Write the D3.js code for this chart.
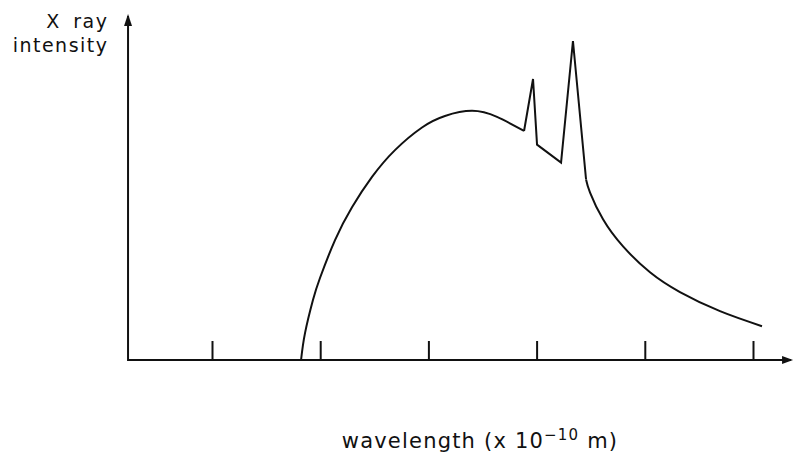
<!DOCTYPE html>
<html>
<head>
<meta charset="utf-8">
<script src="https://cdn.jsdelivr.net/npm/d3@7"></script>
<style>
  body { margin: 0; background: #fff; }
  svg { display: block; }
  text { font-family: "DejaVu Sans", sans-serif; fill: #111; }
</style>
</head>
<body>
<script>
// wavelength tick positions (labels are illegible in the source, so none are printed)
const xTicks = [0.2, 0.3, 0.4, 0.5, 0.6, 0.7];

// continuous (bremsstrahlung) rise up to the K-beta line
const riseWave = [0.2823, 0.286, 0.2933, 0.2998, 0.3137, 0.3294, 0.3479, 0.3691, 0.3941, 0.4153, 0.4403, 0.4634, 0.4884];
const riseInt  = [0,      8.5,   18.8,   25.7,   37.6,   47.9,   57.4,   65.8,   72.9,   76.5,   78.1,   76.2,   71.8];

// characteristic lines (K-beta and K-alpha spikes)
const spikeWave = [0.4884, 0.4967, 0.5004, 0.5226, 0.5336, 0.5457];
const spikeInt  = [71.8,   88.1,   67.5,   61.9,   100,    56.6];

// falling tail after K-alpha
const tailWave = [0.5457, 0.5494, 0.5614, 0.5799, 0.6048, 0.6325, 0.6695, 0.7083];
const tailInt  = [56.6,   52.5,   44.1,   35.6,   27.5,   21.3,   15.3,   10.6];

const width = 794, height = 455;

const x = d3.scaleLinear().domain([0.2, 0.7]).range([212, 753]);
const y = d3.scaleLinear().domain([0, 100]).range([360, 41]);
const xMin = 0.1224, xMax = 0.737;
const yMax = 108.5;

const svg = d3.select("body").append("svg")
    .attr("width", width)
    .attr("height", height);

// axes lines
svg.append("line")
    .attr("x1", x(xMin)).attr("x2", x(xMax) - 2)
    .attr("y1", y(0)).attr("y2", y(0))
    .attr("stroke", "#111").attr("stroke-width", 2);
svg.append("line")
    .attr("x1", x(xMin)).attr("x2", x(xMin))
    .attr("y1", y(0) + 1).attr("y2", y(yMax) + 2)
    .attr("stroke", "#111").attr("stroke-width", 2);

// arrow heads
svg.append("path")
    .attr("d", `M${x(xMin) - 4},${y(yMax) + 12} L${x(xMin)},${y(yMax)} L${x(xMin) + 4},${y(yMax) + 12} Z`)
    .attr("fill", "#111");
svg.append("path")
    .attr("d", `M${x(xMax) - 11},${y(0) - 4} L${x(xMax)},${y(0)} L${x(xMax) - 11},${y(0) + 4} Z`)
    .attr("fill", "#111");

// tick marks pointing up
const xAxis = d3.axisBottom(x).tickValues(xTicks).tickSizeInner(-19).tickSizeOuter(0).tickFormat("");
const gx = svg.append("g")
    .attr("transform", `translate(0,${y(0)})`)
    .call(xAxis);
gx.select(".domain").remove();
gx.selectAll(".tick line").attr("stroke", "#111").attr("stroke-width", 2);

// curve: smooth continuum, straight-edged spikes
const lineSmooth = d3.line().x(d => x(d[0])).y(d => y(d[1])).curve(d3.curveNatural);
const lineSharp = d3.line().x(d => x(d[0])).y(d => y(d[1])).curve(d3.curveLinear);

const rise = d3.zip(riseWave, riseInt);
const spikes = d3.zip(spikeWave, spikeInt);
const tail = d3.zip(tailWave, tailInt);

[[rise, lineSmooth], [spikes, lineSharp], [tail, lineSmooth]].forEach(([pts, gen]) => {
    svg.append("path")
        .datum(pts)
        .attr("d", gen)
        .attr("fill", "none")
        .attr("stroke", "#111")
        .attr("stroke-width", 2)
        .attr("stroke-linejoin", "miter");
});

// y label
svg.append("text")
    .attr("x", 108.5).attr("y", 28)
    .attr("text-anchor", "end")
    .style("font-size", "19px")
    .style("letter-spacing", "1.5px")
    .style("word-spacing", "5px")
    .text("X ray");
svg.append("text")
    .attr("x", 108.5).attr("y", 52)
    .attr("text-anchor", "end")
    .style("font-size", "19px")
    .style("letter-spacing", "1.5px")
    .text("intensity");

// x label
const xl = svg.append("text")
    .attr("x", 480).attr("y", 448)
    .attr("text-anchor", "middle")
    .style("font-size", "21px")
    .style("letter-spacing", "1.2px");
xl.append("tspan").text("wavelength (x 10");
xl.append("tspan").attr("dy", -8).style("font-size", "15px").text("\u221210");
xl.append("tspan").attr("dy", 8).text(" m)");
</script>
</body>
</html>
